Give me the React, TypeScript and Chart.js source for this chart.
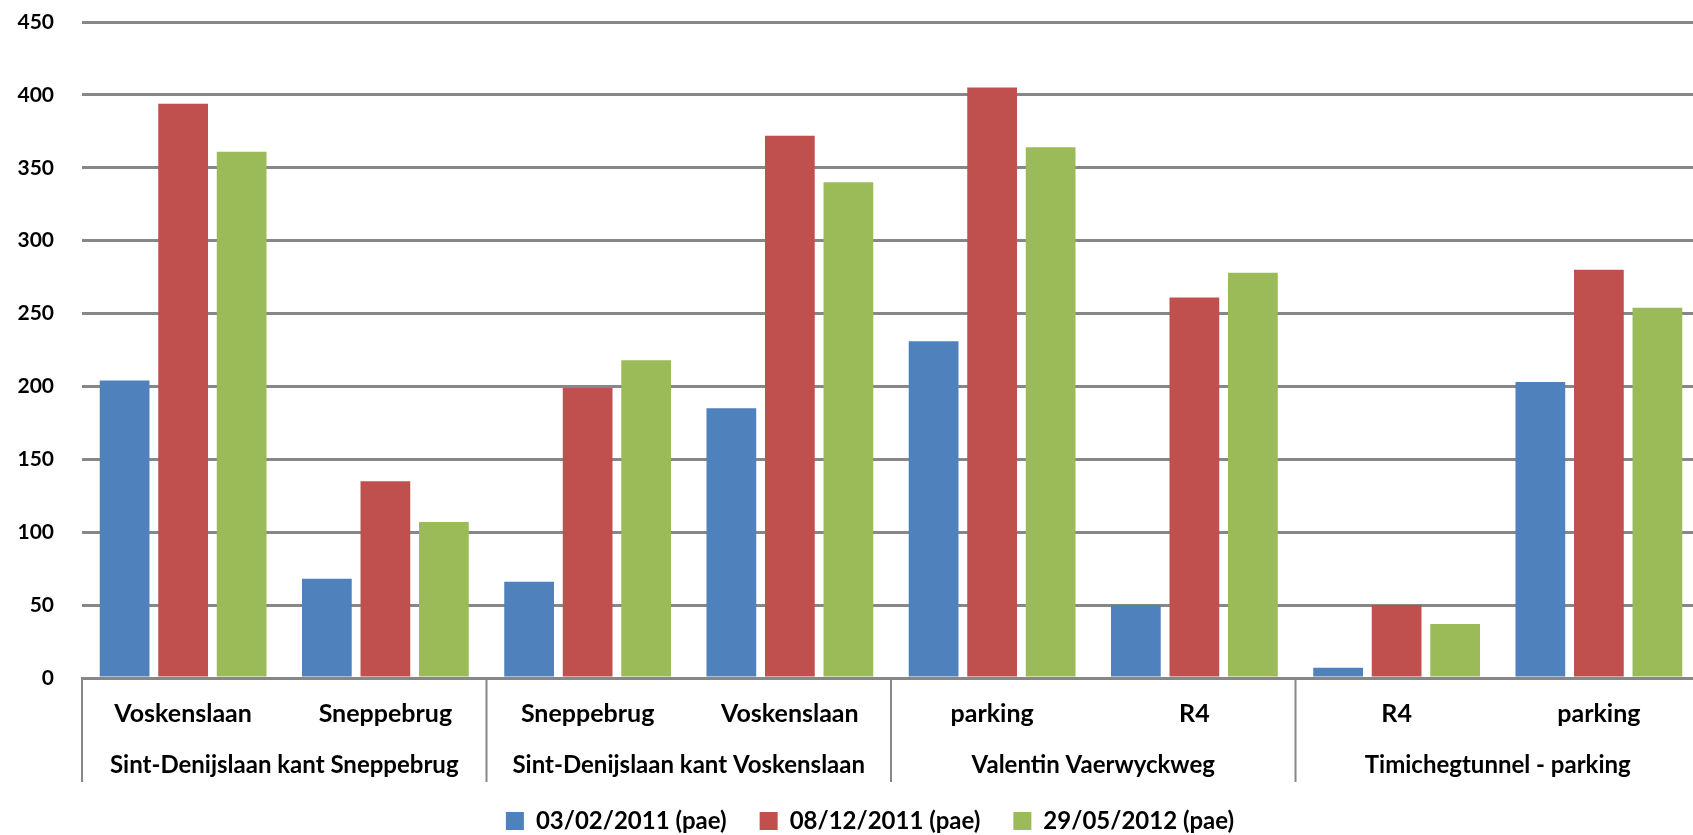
import React, { useEffect, useRef } from "react";
import { Chart, registerables } from "chart.js";

Chart.register(...registerables);

const subCategories = ["Voskenslaan", "Sneppebrug", "Sneppebrug", "Voskenslaan", "parking", "R4", "R4", "parking"];
const groupLabels = ["Sint-Denijslaan kant Sneppebrug", "Sint-Denijslaan kant Voskenslaan", "Valentin Vaerwyckweg", "Timichegtunnel - parking"];
const groupSizes = [2, 2, 2, 2];
const seriesNames = ["03/02/2011 (pae)", "08/12/2011 (pae)", "29/05/2012 (pae)"];
const series1 = [204, 68, 66, 185, 231, 50, 7, 203];
const series2 = [394, 135, 199, 372, 405, 261, 50, 280];
const series3 = [361, 107, 218, 340, 364, 278, 37, 254];
const seriesColors = ["#4F81BD", "#C0504D", "#9BBB59"];
const yMin = 0;
const yMax = 450;
const yStep = 50;

const FONT = "Lato, 'Open Sans', sans-serif";
const GRID = "#878787";

const groupPlugin = {
  id: "groupLabels",
  afterLayout(chart: any) {
    if (chart.legend) {
      chart.legend.left += 20;
      chart.legend.right += 20;
    }
  },
  afterDraw(chart: any) {
    const x = chart.scales.x;
    const ctx = chart.ctx;
    const top = chart.chartArea.bottom;
    const bottom = top + 104;
    const half = (x.getPixelForValue(1) - x.getPixelForValue(0)) / 2;
    ctx.save();
    ctx.strokeStyle = GRID;
    ctx.lineWidth = 2;
    ctx.fillStyle = "#000";
    ctx.font = `bold 24px ${FONT}`;
    ctx.textAlign = "center";
    ctx.textBaseline = "middle";
    let idx = 0;
    groupSizes.forEach((n, g) => {
      const left = x.getPixelForValue(idx) - half;
      const right = x.getPixelForValue(idx + n - 1) + half;
      ctx.beginPath();
      ctx.moveTo(left, top);
      ctx.lineTo(left, bottom);
      ctx.stroke();
      if (g === groupSizes.length - 1) {
        ctx.beginPath();
        ctx.moveTo(right, top);
        ctx.lineTo(right, bottom);
        ctx.stroke();
      }
      ctx.fillText(groupLabels[g], (left + right) / 2, top + 87);
      idx += n;
    });
    ctx.restore();
  },
};

export default function App() {
  const ref = useRef<HTMLCanvasElement>(null);
  useEffect(() => {
    if (!ref.current) return;
    const datasets = [series1, series2, series3].map((d, i) => ({
      label: seriesNames[i],
      data: d,
      backgroundColor: seriesColors[i],
      borderWidth: 0,
      categoryPercentage: 0.868,
      barPercentage: 0.85,
    }));
    const chart = new Chart(ref.current, {
      type: "bar",
      data: { labels: subCategories, datasets },
      options: {
        responsive: false,
        animation: false,
        devicePixelRatio: 1,
        layout: { padding: { top: 22, left: 0, right: 0, bottom: 2 } },
        plugins: {
          legend: {
            position: "bottom",
            labels: {
              boxWidth: 18,
              boxHeight: 18,
              padding: 33,
              color: "#000",
              font: { family: FONT, size: 24, weight: "bold" },
            },
          },
          tooltip: { enabled: false },
        },
        scales: {
          x: {
            grid: { display: false, drawTicks: false },
            border: { display: true, color: GRID, width: 3 },
            ticks: {
              color: "#000",
              padding: 21,
              maxRotation: 0,
              autoSkip: false,
              font: { family: FONT, size: 25, weight: "bold" },
            },
            afterFit: (s: any) => {
              s.height = 98;
              s.paddingLeft = 0;
              s.paddingRight = 0;
            },
          },
          y: {
            min: yMin,
            max: yMax,
            ticks: {
              stepSize: yStep,
              color: "#000",
              padding: 28,
              font: { family: FONT, size: 21, weight: "bold" },
            },
            grid: { color: GRID, lineWidth: 3, drawTicks: false },
            border: { display: false },
            afterFit: (s: any) => {
              s.width = 82;
              s.paddingTop = 0;
              s.paddingBottom = 0;
            },
          },
        },
      },
      plugins: [groupPlugin],
    });
    return () => chart.destroy();
  }, []);
  return (
    <div style={{ position: "fixed", left: 0, top: 0, width: 1693, height: 835, overflow: "hidden", background: "#fff" }}>
      <canvas ref={ref} width={1700} height={845} />
    </div>
  );
}
